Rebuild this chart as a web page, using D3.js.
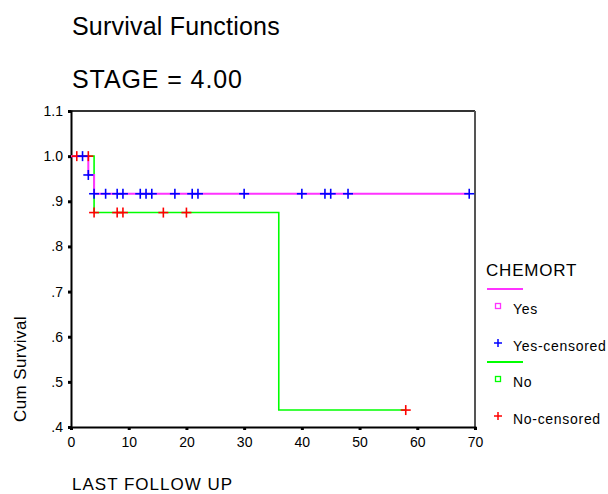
<!DOCTYPE html>
<html>
<head>
<meta charset="utf-8">
<script src="https://cdn.jsdelivr.net/npm/d3@7"></script>
<style>
  body { margin: 0; background: #fff; }
  text { font-family: "Liberation Sans", Arial, sans-serif; fill: #000; }
</style>
</head>
<body>
<div id="chart"></div>
<script>
// survival steps per group (time, cum survival)
var yesTimes = [0, 3, 4, 69];
var yesSurv = [1.0, 0.9583, 0.9167, 0.9167];
var noTimes = [0, 4, 36, 58];
var noSurv = [1.0, 0.875, 0.4375, 0.4375];

// censored cases
var yesCensTimes = [2, 3, 4, 6, 8, 9, 12, 13, 14, 18, 21, 22, 30, 40, 44, 45, 48, 69];
var yesCensSurv = [1.0, 0.9583, 0.9167, 0.9167, 0.9167, 0.9167, 0.9167, 0.9167, 0.9167, 0.9167, 0.9167, 0.9167, 0.9167, 0.9167, 0.9167, 0.9167, 0.9167, 0.9167];
var noCensTimes = [1, 3, 4, 8, 9, 16, 20, 58];
var noCensSurv = [1.0, 1.0, 0.875, 0.875, 0.875, 0.875, 0.875, 0.4375];

var xTicks = [0, 10, 20, 30, 40, 50, 60, 70];
var yTicks = [1.1, 1.0, 0.9, 0.8, 0.7, 0.6, 0.5, 0.4];
var yTickLabels = ["1.1", "1.0", ".9", ".8", ".7", ".6", ".5", ".4"];

var legendLabels = ["Yes", "Yes-censored", "No", "No-censored"];

var svgWidth = 608, svgHeight = 494;
var margin = {top: 111, right: 133, bottom: 67, left: 71};

var svg = d3.select("#chart").append("svg")
    .attr("width", svgWidth)
    .attr("height", svgHeight);

var x = d3.scaleLinear().domain([0, 70]).range([margin.left, svgWidth - margin.right]);
var y = d3.scaleLinear().domain([0.4, 1.1]).range([svgHeight - margin.bottom, margin.top]);

// titles
svg.append("text").attr("x", 72).attr("y", 35)
    .style("font-size", "25px").style("letter-spacing", "0.2px").text("Survival Functions");
svg.append("text").attr("x", 72).attr("y", 88)
    .style("font-size", "25px").style("letter-spacing", "0.9px").text("STAGE = 4.00");

// frame top / right
svg.append("line")
    .attr("x1", x(0)).attr("x2", x(70)).attr("y1", y(1.1)).attr("y2", y(1.1))
    .attr("stroke", "#333").attr("stroke-width", 2);
svg.append("line")
    .attr("x1", x(70)).attr("x2", x(70)).attr("y1", y(1.1)).attr("y2", y(0.4))
    .attr("stroke", "#555").attr("stroke-width", 2);

// axes
var xAxis = svg.append("g")
    .attr("transform", "translate(0," + y(0.4) + ")")
    .call(d3.axisBottom(x).tickValues(xTicks).tickSize(3).tickPadding(7));
var yAxis = svg.append("g")
    .attr("transform", "translate(" + x(0) + ",0)")
    .call(d3.axisLeft(y).tickValues(yTicks).tickSize(3).tickPadding(5)
        .tickFormat(function(d, i) { return yTickLabels[i]; }));

[xAxis, yAxis].forEach(function(g) {
    g.select(".domain").attr("stroke", "#000").attr("stroke-width", 2);
    g.selectAll(".tick line").attr("stroke", "#000").attr("stroke-width", 3);
    g.selectAll(".tick text").style("font-size", "14px")
        .style("font-family", "Liberation Sans, Arial, sans-serif");
});

// axis labels
svg.append("text")
    .attr("transform", "translate(26,369) rotate(-90)")
    .attr("text-anchor", "middle")
    .style("font-size", "17px").style("letter-spacing", "0.4px").text("Cum Survival");
svg.append("text").attr("x", 72).attr("y", 490)
    .style("font-size", "17px").style("letter-spacing", "1px").text("LAST FOLLOW UP");

// step lines
var line = d3.line()
    .x(function(d) { return x(d[0]); })
    .y(function(d) { return y(d[1]); })
    .curve(d3.curveStepAfter);

svg.append("path")
    .datum(noTimes.map(function(t, i) { return [t, noSurv[i]]; }))
    .attr("d", line).attr("fill", "none")
    .attr("stroke", "#00ff00").attr("stroke-width", 1.6);
svg.append("path")
    .datum(yesTimes.map(function(t, i) { return [t, yesSurv[i]]; }))
    .attr("d", line).attr("fill", "none")
    .attr("stroke", "#ff33ff").attr("stroke-width", 2);

// censor crosses
function crosses(times, surv, color) {
    var pts = times.map(function(t, i) { return [t, surv[i]]; });
    var g = svg.append("g").selectAll("g").data(pts).enter().append("g")
        .attr("transform", function(d) { return "translate(" + x(d[0]) + "," + y(d[1]) + ")"; });
    g.append("line").attr("x1", -5).attr("x2", 5).attr("stroke", color).attr("stroke-width", 1.6);
    g.append("line").attr("y1", -5).attr("y2", 5).attr("stroke", color).attr("stroke-width", 1.6);
}
crosses(noCensTimes, noCensSurv, "#ff0000");
crosses(yesCensTimes, yesCensSurv, "#0000ff");

// legend
var lg = svg.append("g");
lg.append("text").attr("x", 486).attr("y", 276).style("font-size", "17px")
    .style("letter-spacing", "0.8px").text("CHEMORT");
var legendY = [314, 351, 387, 424];
var legendColors = ["#ff33ff", "#0000ff", "#00ff00", "#ff0000"];
[0, 2].forEach(function(i) {
    lg.append("line").attr("x1", 487).attr("x2", 523)
        .attr("y1", legendY[i] - 25).attr("y2", legendY[i] - 25)
        .attr("stroke", legendColors[i]).attr("stroke-width", 2);
    lg.append("rect").attr("x", 495.5).attr("y", legendY[i] - 10.5)
        .attr("width", 5).attr("height", 5)
        .attr("fill", "none").attr("stroke", legendColors[i]).attr("stroke-width", 1.3);
});
[1, 3].forEach(function(i) {
    lg.append("line").attr("x1", 494).attr("x2", 502)
        .attr("y1", legendY[i] - 8).attr("y2", legendY[i] - 8)
        .attr("stroke", legendColors[i]).attr("stroke-width", 1.5);
    lg.append("line").attr("x1", 498).attr("x2", 498)
        .attr("y1", legendY[i] - 12).attr("y2", legendY[i] - 4)
        .attr("stroke", legendColors[i]).attr("stroke-width", 1.5);
});
legendLabels.forEach(function(t, i) {
    lg.append("text").attr("x", 513).attr("y", legendY[i]).style("font-size", "14px")
        .style("letter-spacing", "0.7px").text(t);
});
</script>
</body>
</html>
